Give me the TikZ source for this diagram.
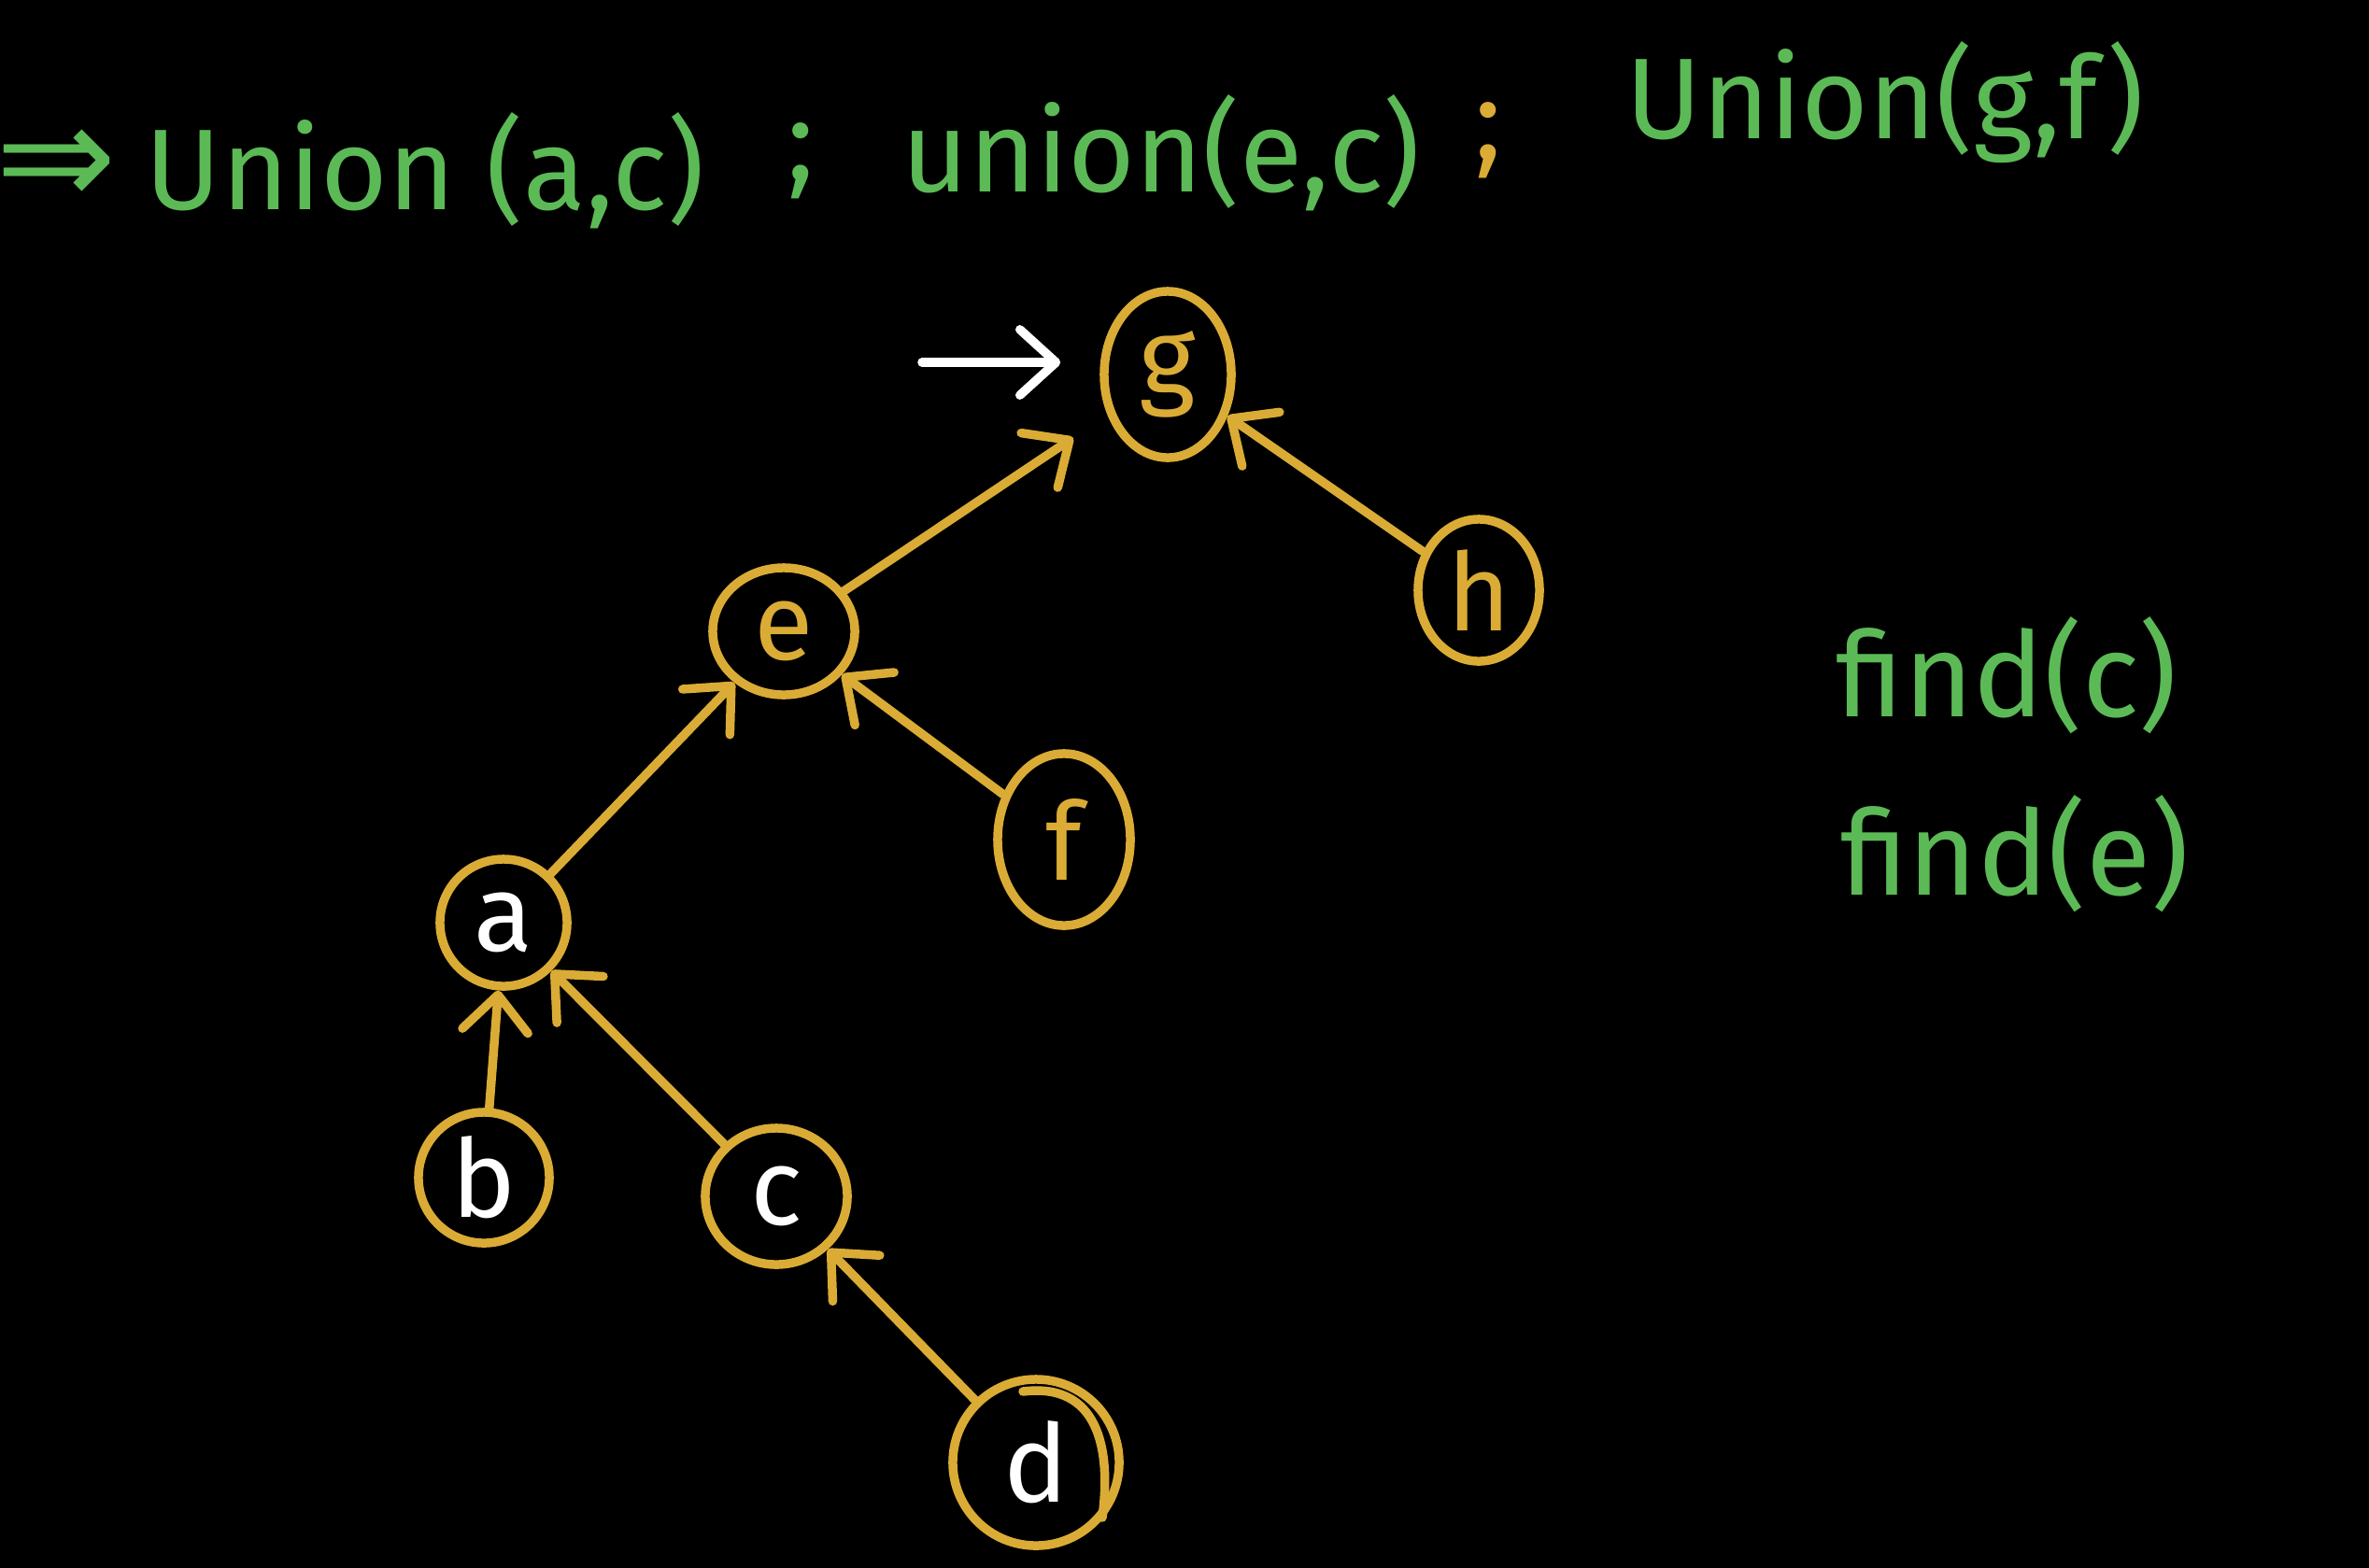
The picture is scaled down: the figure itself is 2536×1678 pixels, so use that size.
\documentclass[tikz,border=0pt]{standalone}
\usepackage{fontspec}
\setmainfont{Fira Sans}
\newfontfamily\symfont{DejaVu Sans}
\usetikzlibrary{arrows.meta,shapes.geometric}
\definecolor{chalkgold}{RGB}{218,172,54}
\definecolor{chalkgreen}{RGB}{92,186,86}

\begin{document}
\begin{tikzpicture}[x=0.01cm,y=-0.01cm,
  vertex/.style={ellipse,draw=chalkgold,line width=2.7pt,inner sep=0pt,font=\fontsize{33}{33}\selectfont},
  link/.style={chalkgold,line width=2.7pt,line cap=round,-{Straight Barb[length=11pt,width=20pt,round]}},
  pointer/.style={white,line width=2.7pt,line cap=round,-{Straight Barb[length=11pt,width=20pt,round]}},
  note/.style={text=chalkgreen,inner sep=0pt,font=\fontsize{35}{40}\selectfont}]
\useasboundingbox (0,0) rectangle (2536,1678);
\fill[black] (-20,-20) rectangle (2556,1698);

% operations
\node[note,font=\symfont\fontsize{44}{44}\selectfont] (imp) at (60,180) {⇒};
\node[note] (u1) at (455,183) {Union (a,c)};
\node[note] (s1) at (857,172) {;};
\node[note] (u2) at (1243,164) {union(e,c)};
\node[note,text=chalkgold] (s2) at (1593,150) {;};
\node[note] (u3) at (2018,110) {Union(g,f)};

\node[note,font=\fontsize{36}{40}\selectfont] (fc) at (2148,723) {find(c)};
\node[note,font=\fontsize{36}{40}\selectfont] (fe) at (2157,914) {find(e)};

% tree
\node[vertex,minimum width=1.36cm,minimum height=1.78cm,text=chalkgold] (g) at (1250,401) {g};
\node[vertex,minimum width=1.52cm,minimum height=1.36cm,text=chalkgold] (e) at (839,676) {e};
\node[vertex,minimum width=1.30cm,minimum height=1.52cm,text=chalkgold] (h) at (1583,632) {h};
\node[vertex,minimum width=1.42cm,minimum height=1.84cm,text=chalkgold] (f) at (1139,899) {f};
\node[vertex,minimum width=1.36cm,minimum height=1.36cm,text=white] (a) at (539,988) {a};
\node[vertex,minimum width=1.40cm,minimum height=1.40cm,text=white] (b) at (518,1261) {b};
\node[vertex,minimum width=1.52cm,minimum height=1.46cm,text=white] (c) at (831,1281) {c};
\node[vertex,minimum width=1.78cm,minimum height=1.78cm,text=white] (d) at (1109,1566) {d};
\draw[chalkgold,line width=2.7pt,line cap=round] (1095,1490) .. controls (1175,1480) and (1190,1550) .. (1180,1625);

\coordinate (ptr) at (987,388);
\draw[pointer,shorten >=0.42cm] (ptr) -- (g.west |- ptr);

\draw[link,shorten >=0.44cm] (e) -- (g);
\draw[link] (h) -- (g);
\draw[link] (a) -- (e);
\draw[link] (f) -- (e);
\draw[link] (b) -- (a);
\draw[link] (c) -- (a);
\draw[link] (d) -- (c);
\end{tikzpicture}
\end{document}
